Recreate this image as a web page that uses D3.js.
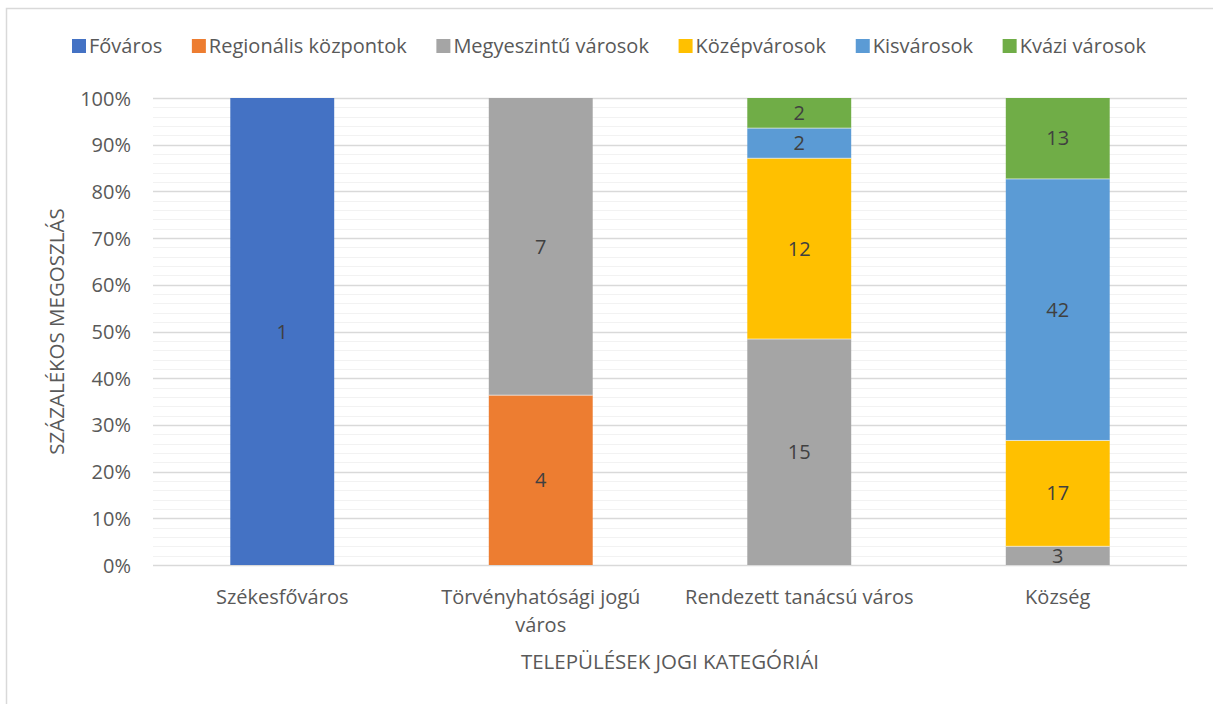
<!DOCTYPE html>
<html><head><meta charset="utf-8">
<script src="https://cdn.jsdelivr.net/npm/d3@7"></script>
<style>body{margin:0;background:#fff}svg{display:block}text{font-family:"Open Sans",sans-serif}</style>
</head><body><svg id="c" width="1213" height="704"></svg>
<script>
const categories = ["Székesfőváros", "Törvényhatósági jogú város", "Rendezett tanácsú város", "Község"];
const categoryLines = [["Székesfőváros"], ["Törvényhatósági jogú", "város"], ["Rendezett tanácsú város"], ["Község"]];
const seriesNames = ["Főváros", "Regionális központok", "Megyeszintű városok", "Középvárosok", "Kisvárosok", "Kvázi városok"];
const fovaros     = [1, 0, 0, 0];
const regionalis  = [0, 4, 0, 0];
const megyeszintu = [0, 7, 15, 3];
const kozepvaros  = [0, 0, 12, 17];
const kisvaros    = [0, 0, 2, 42];
const kvazi       = [0, 0, 2, 13];
const yTicks = [0, 0.1, 0.2, 0.3, 0.4, 0.5, 0.6, 0.7, 0.8, 0.9, 1];
const colors = ["#4472C4", "#ED7D31", "#A5A5A5", "#FFC000", "#5B9BD5", "#70AD47"];
const xTitle = "TELEPÜLÉSEK JOGI KATEGÓRIÁI";
const yTitle = "SZÁZALÉKOS MEGOSZLÁS";

const seriesValues = [fovaros, regionalis, megyeszintu, kozepvaros, kisvaros, kvazi];
const rows = categories.map((c, i) => {
  const r = {cat: c};
  seriesNames.forEach((s, j) => r[s] = seriesValues[j][i]);
  return r;
});

const svg = d3.select("#c");
const L = 153, R = 1187, T = 98, B = 565;
const FS = 20;

// chart border
svg.append("rect").attr("x", 6.5).attr("y", 8.5).attr("width", 1230).attr("height", 720)
  .attr("fill", "none").attr("stroke", "#d9d9d9").attr("stroke-width", 1.5);

const x = d3.scaleBand().domain(categories).range([L, R]);
const y = d3.scaleLinear().domain([0, 1]).range([B, T]);
const barW = x.bandwidth() * 0.402;

// minor gridlines
const minor = d3.range(0, 101, 2).map(v => v / 100);
svg.append("g").selectAll("line").data(minor).join("line")
  .attr("x1", L).attr("x2", R).attr("y1", d => Math.round(y(d)) + 0.5).attr("y2", d => Math.round(y(d)) + 0.5)
  .attr("stroke", "#f2f2f2").attr("stroke-width", 1);
// major gridlines
svg.append("g").selectAll("line").data(yTicks).join("line")
  .attr("x1", L).attr("x2", R).attr("y1", d => Math.round(y(d)) + 0.5).attr("y2", d => Math.round(y(d)) + 0.5)
  .attr("stroke", "#d9d9d9").attr("stroke-width", 1.5);

// y axis labels
const yAxis = d3.axisLeft(y).tickValues(yTicks).tickFormat(d3.format(".0%")).tickSize(0).tickPadding(0);
const ya = svg.append("g").attr("transform", `translate(131,0)`).call(yAxis);
ya.select(".domain").remove();
ya.selectAll("text").attr("font-size", FS).attr("fill", "#595959").attr("font-family", "Open Sans").attr("dy", "0.35em");

// stack
const stack = d3.stack().keys(seriesNames).offset(d3.stackOffsetExpand);
const stacked = stack(rows);

const g = svg.append("g");
stacked.forEach((layer, j) => {
  g.selectAll(null).data(layer.filter(d => d[1] - d[0] > 0)).join("rect")
    .attr("x", d => x(d.data.cat) + (x.bandwidth() - barW) / 2)
    .attr("width", barW)
    .attr("y", d => y(d[1]))
    .attr("height", d => y(d[0]) - y(d[1]))
    .attr("fill", colors[j]);
});
stacked.forEach((layer, j) => {
  g.selectAll(null).data(layer.filter(d => d[1] - d[0] > 0 && d[1] < 0.9999)).join("line")
    .attr("x1", d => x(d.data.cat) + (x.bandwidth() - barW) / 2)
    .attr("x2", d => x(d.data.cat) + (x.bandwidth() + barW) / 2)
    .attr("y1", d => y(d[1])).attr("y2", d => y(d[1]))
    .attr("stroke", "#ffffff").attr("stroke-width", 1).attr("stroke-opacity", 0.6);
});
// data labels
stacked.forEach((layer, j) => {
  g.selectAll(null).data(layer.filter(d => d[1] - d[0] > 0)).join("text")
    .attr("x", d => x(d.data.cat) + x.bandwidth() / 2)
    .attr("y", d => y((d[0] + d[1]) / 2))
    .attr("dy", "0.35em").attr("text-anchor", "middle")
    .attr("font-size", FS).attr("fill", "#404040")
    .text(d => d.data[seriesNames[j]]);
});

// category labels
const xl = svg.append("g");
categories.forEach((c, i) => {
  categoryLines[i].forEach((line, k) => {
    xl.append("text").attr("x", x(c) + x.bandwidth() / 2).attr("y", 597 + k * 28)
      .attr("dy", "0.35em").attr("text-anchor", "middle")
      .attr("font-size", FS).attr("fill", "#595959").text(line);
  });
});

// axis titles
svg.append("text").attr("x", (L + R) / 2).attr("y", 662).attr("dy", "0.35em").attr("text-anchor", "middle")
  .attr("font-size", 20.5).attr("fill", "#595959").text(xTitle);
svg.append("text").attr("transform", `translate(57,${(T + B) / 2}) rotate(-90)`).attr("dy", "0.35em")
  .attr("text-anchor", "middle").attr("font-size", 20.5).attr("fill", "#595959").text(yTitle);

// legend
const legend = svg.append("g");
const items = seriesNames.map((s, j) => {
  const it = legend.append("g");
  it.append("rect").attr("x", 0).attr("y", -7).attr("width", 14).attr("height", 14).attr("fill", colors[j]);
  const t = it.append("text").attr("x", 17).attr("y", 0).attr("dy", "0.35em").attr("font-size", FS)
    .attr("fill", "#595959").text(s);
  return {g: it, w: 17 + t.node().getComputedTextLength()};
});
const legL = 72, legR = 1146;
const gap = Math.max(8, (legR - legL - d3.sum(items, d => d.w)) / (items.length - 1));
const totalW = d3.sum(items, d => d.w) + gap * (items.length - 1);
let cx = (legL + legR) / 2 - totalW / 2;
items.forEach(d => { d.g.attr("transform", `translate(${cx},46)`); cx += d.w + gap; });
</script></body></html>
